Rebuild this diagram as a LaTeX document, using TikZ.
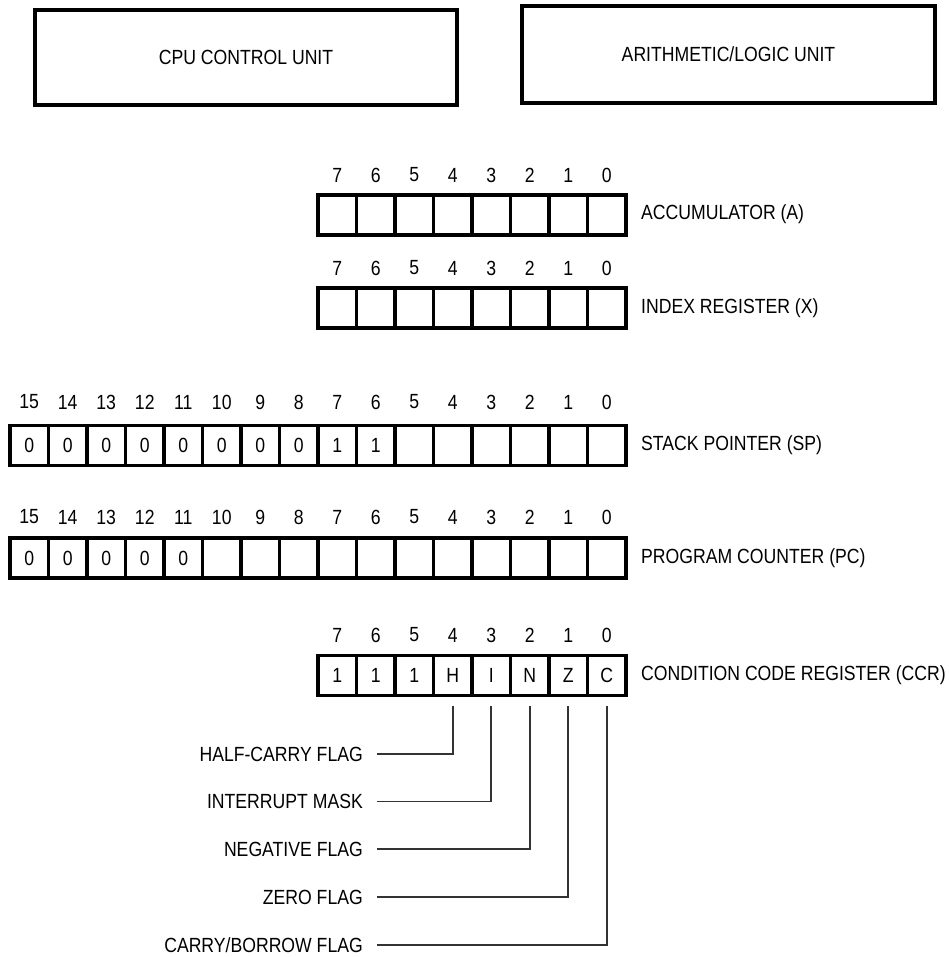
\documentclass[tikz,border=0pt]{standalone}
\usepackage{fontspec}
\setmainfont{Liberation Sans}[FakeStretch=0.86]
\usetikzlibrary{calc}
\begin{document}
\begin{tikzpicture}[x=1pt,y=-1pt,
  txt/.style={font=\fontsize{20.5}{24}\selectfont, inner sep=0pt},
  unitbox/.style={draw, line width=3.4pt, inner sep=0pt, font=\fontsize{20.5}{24}\selectfont},
  cell/.style={draw, line width=3.6pt, minimum width=38.5pt, minimum height=40pt, inner sep=0pt, font=\fontsize{20.5}{24}\selectfont},
  bitno/.style={txt},
  reglabel/.style={txt, anchor=west},
  flaglabel/.style={txt, anchor=east},
  flagline/.style={draw=black!80, line width=1.8pt}]
\useasboundingbox (0,0) rectangle (948,957);

% top units
\node[unitbox, minimum width=422pt, minimum height=95pt] (cu) at (246,57.5) {CPU CONTROL UNIT};
\node[unitbox, minimum width=413pt, minimum height=97pt] (alu) at (728.5,54.5) {ARITHMETIC/LOGIC UNIT};

% accumulator
\foreach \i in {0,...,7} {
  \node[bitno] (an\i) at (606.75-38.5*\i,175) {\i};
  \node[cell] (a\i) at (606.75-38.5*\i,215) {};
}
\node[reglabel] (alab) at (641,214) {ACCUMULATOR (A)};

% index register
\foreach \i in {0,...,7} {
  \node[bitno] (xn\i) at (606.75-38.5*\i,268) {\i};
  \node[cell] (x\i) at (606.75-38.5*\i,308) {};
}
\node[reglabel] (xlab) at (641,308) {INDEX REGISTER (X)};

% stack pointer
\foreach \i/\v in {0/,1/,2/,3/,4/,5/,6/1,7/1,8/0,9/0,10/0,11/0,12/0,13/0,14/0,15/0} {
  \node[bitno] (spn\i) at (606.75-38.5*\i,402) {\i};
  \node[cell] (sp\i) at (606.75-38.5*\i,445.5) {\v};
}
\node[reglabel] (splab) at (641,445) {STACK POINTER (SP)};

% program counter
\foreach \i/\v in {0/,1/,2/,3/,4/,5/,6/,7/,8/,9/,10/,11/0,12/0,13/0,14/0,15/0} {
  \node[bitno] (pcn\i) at (606.75-38.5*\i,517) {\i};
  \node[cell] (pc\i) at (606.75-38.5*\i,558) {\v};
}
\node[reglabel] (pclab) at (641,558) {PROGRAM COUNTER (PC)};

% condition code register
\foreach \i/\v in {0/C,1/Z,2/N,3/I,4/H,5/1,6/1,7/1} {
  \node[bitno] (ccrn\i) at (606.75-38.5*\i,635) {\i};
  \node[cell] (ccr\i) at (606.75-38.5*\i,675.5) {\v};
}
\node[reglabel] (ccrlab) at (641,675) {CONDITION CODE REGISTER (CCR)};

% flags
\node[flaglabel] (fh) at (363,754) {HALF-CARRY FLAG};
\node[flaglabel] (fi) at (363,801.5) {INTERRUPT MASK};
\node[flaglabel] (fn) at (363,849) {NEGATIVE FLAG};
\node[flaglabel] (fz) at (363,897) {ZERO FLAG};
\node[flaglabel] (fc) at (363,945) {CARRY/BORROW FLAG};

\coordinate (th) at ($(ccr4.south)+(0,9)$);
\coordinate (ti) at ($(ccr3.south)+(0,9)$);
\coordinate (tn) at ($(ccr2.south)+(0,9)$);
\coordinate (tz) at ($(ccr1.south)+(0,9)$);
\coordinate (tc) at ($(ccr0.south)+(0,9)$);

\draw[flagline] ($(fh.east)+(14,0)$) -| (th);
\draw[flagline] ($(fi.east)+(14,0)$) -| (ti);
\draw[flagline] ($(fn.east)+(14,0)$) -| (tn);
\draw[flagline] ($(fz.east)+(14,0)$) -| (tz);
\draw[flagline] ($(fc.east)+(14,0)$) -| (tc);
\end{tikzpicture}
\end{document}
